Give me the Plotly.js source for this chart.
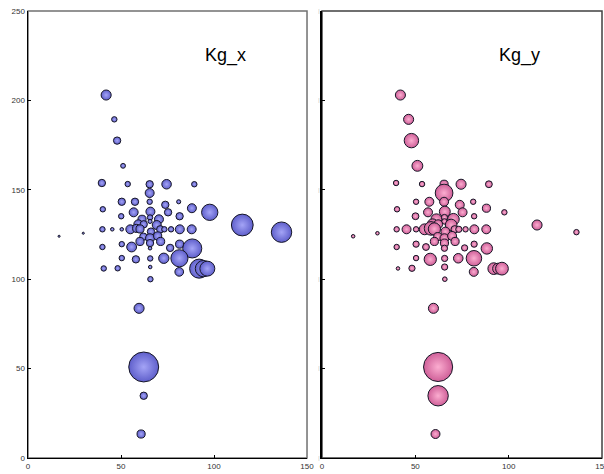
<!DOCTYPE html>
<html>
<head>
<meta charset="utf-8">
<script src="https://cdn.plot.ly/plotly-3.0.1.min.js"></script>
<style>
  html, body { margin: 0; padding: 0; background: #fff; }
  #chart { width: 604px; height: 474px; }
</style>
</head>
<body>
<div id="chart"></div>
<script>
// Point coordinates shared by both panels
const xVals = [42.0, 46.4, 47.9, 51.1, 39.7, 53.6, 65.4, 74.5, 89.4, 65.4,
  50.4, 57.5, 65.4, 73.8, 81.0, 88.1, 97.7, 40.2, 56.8, 65.8,
  75.3, 81.5, 50.1, 115.2, 136.3, 16.7, 29.7, 65.6, 65.6, 61.3,
  70.4, 59.3, 62.2, 69.2, 55.0, 58.4, 60.2, 66.1, 71.1, 73.3,
  76.9, 81.6, 88.0, 40.0, 45.3, 50.4, 62.0, 65.6, 69.7, 60.2,
  65.6, 71.3, 65.6, 40.0, 50.4, 55.7, 76.4, 81.5, 88.3, 50.4,
  58.0, 65.7, 73.0, 81.4, 65.7, 40.7, 48.2, 81.3, 92.0, 94.3,
  96.4, 65.8, 59.7, 62.2, 62.2, 60.8];
const yVals = [203.0, 189.4, 177.5, 163.4, 153.8, 153.2, 153.1, 153.1, 153.1, 148.2,
  143.3, 143.3, 143.3, 141.6, 143.3, 139.7, 137.4, 139.1, 137.4, 137.8,
  137.4, 135.2, 135.2, 130.3, 126.3, 124.0, 125.7, 134.5, 132.3, 133.5,
  133.5, 130.7, 130.7, 130.3, 127.9, 128.4, 128.1, 126.6, 127.9, 127.9,
  127.9, 127.9, 127.9, 127.9, 127.9, 127.9, 123.8, 122.9, 124.2, 121.1,
  120.2, 121.1, 117.3, 118.0, 119.6, 118.0, 117.5, 119.6, 117.2, 111.8,
  111.1, 111.6, 111.7, 111.7, 106.8, 106.0, 106.1, 104.1, 105.9, 105.9,
  105.9, 100.0, 83.7, 50.9, 34.8, 13.4];

// Bubble values (area scaled)
const kgX = [13.7, 4.0, 7.3, 3.2, 7.3, 4.0, 7.3, 12.3, 4.0, 10.9,
  7.3, 7.3, 4.0, 7.3, 2.3, 10.9, 36.0, 4.0, 10.9, 10.9,
  7.3, 7.3, 4.0, 64.0, 56.3, 0.6, 0.6, 4.0, 2.3, 9.0,
  10.9, 10.9, 7.3, 10.9, 10.9, 9.0, 9.0, 7.3, 7.3, 4.0,
  4.0, 10.9, 10.9, 4.0, 1.7, 1.7, 7.3, 10.9, 9.0, 9.0,
  7.3, 9.0, 1.7, 4.0, 4.0, 13.0, 7.3, 9.0, 49.0, 4.0,
  7.3, 4.0, 14.4, 39.7, 1.7, 4.0, 4.0, 10.2, 49.0, 36.0,
  30.3, 4.0, 13.7, 121.0, 7.3, 9.0];
const kgY = [13.7, 13.7, 28.1, 16.0, 4.0, 4.0, 9.0, 13.7, 6.3, 42.3,
  4.0, 10.9, 10.9, 10.9, 4.0, 9.0, 4.0, 4.0, 10.9, 16.0,
  10.9, 4.0, 6.3, 13.7, 4.0, 1.7, 1.7, 5.3, 4.0, 16.0,
  18.5, 16.0, 10.9, 18.5, 16.0, 25.0, 20.3, 10.9, 7.3, 5.3,
  4.0, 10.9, 10.9, 4.0, 10.9, 4.0, 9.0, 10.9, 10.9, 9.0,
  9.0, 9.0, 5.3, 4.0, 5.3, 6.3, 5.3, 5.3, 17.6, 4.0,
  20.3, 5.3, 12.3, 32.5, 5.3, 1.7, 5.3, 10.9, 18.5, 16.0,
  22.1, 2.9, 13.7, 114.5, 56.3, 10.9];

const panelTitles = ['Kg_x', 'Kg_y'];
const xTicks = [0, 50, 100, 150];
const yTicks = [0, 50, 100, 150, 200, 250];

const SIZEREF = 0.27;

function bubbles(values, xa, ya, edge, center) {
  return {
    type: 'scatter', mode: 'markers',
    x: xVals, y: yVals, xaxis: xa, yaxis: ya,
    hoverinfo: 'skip',
    marker: {
      size: values, sizemode: 'area', sizeref: SIZEREF, sizemin: 0,
      color: edge,
      gradient: { type: 'radial', color: center },
      line: { color: '#161626', width: 1 },
      opacity: 1
    }
  };
}

const data = [
  bubbles(kgX, 'x', 'y', '#5f5fcb', '#a4a4f6'),
  bubbles(kgY, 'x2', 'y2', '#cf5f98', '#fbadd0')
];

const tickFont = { family: 'Liberation Sans, Arial, sans-serif', size: 8, color: '#333' };

function xAxis(domain, anchor) {
  return {
    domain: domain, anchor: anchor, range: [0, 150],
    tickmode: 'array', tickvals: xTicks, ticktext: xTicks.map(String),
    ticks: 'inside', ticklen: 3, tickwidth: 1, tickcolor: '#000',
    showline: true, linecolor: '#000', linewidth: 1.5,
    showgrid: false, zeroline: false, fixedrange: true,
    tickfont: tickFont, ticklabeloverflow: 'allow'
  };
}

function yAxis(anchor, labels, font) {
  return {
    domain: [0.0338, 0.9768], anchor: anchor, range: [0, 250],
    tickmode: 'array', tickvals: yTicks, ticktext: labels,
    ticks: 'inside', ticklen: 3, tickwidth: 1, tickcolor: '#000',
    showline: true, linecolor: '#000', linewidth: 1.5,
    showgrid: false, zeroline: false, fixedrange: true,
    tickfont: font, ticklabeloverflow: 'allow'
  };
}

const layout = {
  width: 604, height: 474,
  margin: { l: 0, r: 0, t: 0, b: 0 },
  paper_bgcolor: '#fff', plot_bgcolor: '#fff',
  showlegend: false,
  xaxis: xAxis([0.0464, 0.5083], 'y'),
  yaxis: yAxis('x', yTicks.map(String), tickFont),
  xaxis2: xAxis([0.5331, 0.9967], 'y2'),
  yaxis2: yAxis('x2', yTicks.map(() => '|'),
    { family: 'Liberation Sans, Arial, sans-serif', size: 5, color: '#b0b0b0' }),
  shapes: [
    { type: 'rect', xref: 'x domain', yref: 'y domain', x0: 0, x1: 1, y0: 0, y1: 1,
      line: { color: '#707070', width: 1.5 }, layer: 'below' },
    { type: 'rect', xref: 'x2 domain', yref: 'y2 domain', x0: 0, x1: 1, y0: 0, y1: 1,
      line: { color: '#404040', width: 1.5 }, layer: 'below' }
  ],
  annotations: [
    { text: panelTitles[0], xref: 'x', yref: 'y', x: 106, y: 225, showarrow: false,
      font: { family: 'Liberation Sans, Arial, sans-serif', size: 18, color: '#000' } },
    { text: panelTitles[1], xref: 'x2', yref: 'y2', x: 106, y: 225, showarrow: false,
      font: { family: 'Liberation Sans, Arial, sans-serif', size: 18, color: '#000' } }
  ]
};

Plotly.newPlot('chart', data, layout, { staticPlot: true, displayModeBar: false });
</script>
</body>
</html>
